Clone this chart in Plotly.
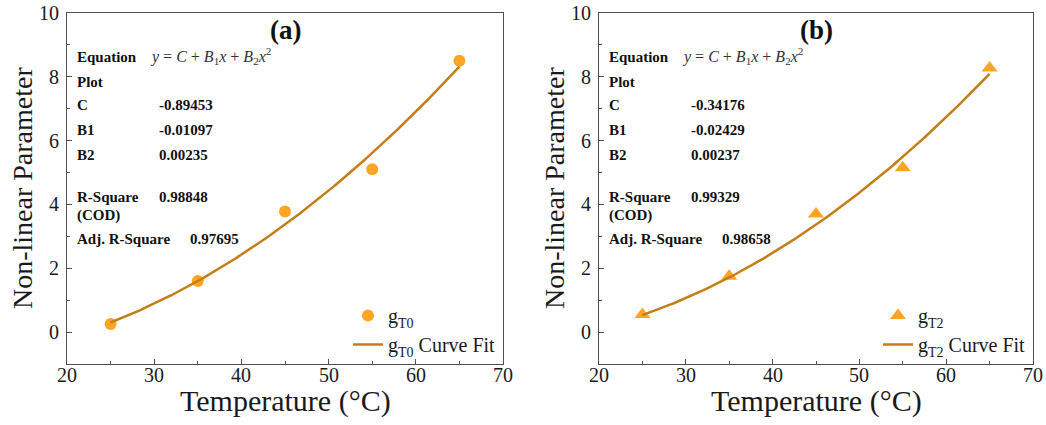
import numpy as np
import plotly.graph_objects as go

# Measured data
temperature = [25, 35, 45, 55, 65]
g_t0 = [0.25, 1.60, 3.78, 5.10, 8.50]
g_t2 = [0.55, 1.75, 3.70, 5.15, 8.28]

# Quadratic fit coefficients y = C + B1*x + B2*x^2
fit_t0 = {"C": -0.89453, "B1": -0.01097, "B2": 0.00235, "R2": 0.98848, "AdjR2": 0.97695}
fit_t2 = {"C": -0.34176, "B1": -0.02429, "B2": 0.00237, "R2": 0.99329, "AdjR2": 0.98658}

x_ticks = [20, 30, 40, 50, 60, 70]
y_ticks = [0, 2, 4, 6, 8, 10]

FONT = "Liberation Serif"
MARKER_COLOR = "#FFA524"
LINE_COLOR = "#C47E16"
FRAME = "#505050"
TEXT = "#1a1a1a"

xs = np.linspace(min(temperature), max(temperature), 200)


def curve(p):
    return p["C"] + p["B1"] * xs + p["B2"] * xs ** 2


fig = go.Figure()

fig.add_trace(go.Scatter(
    x=temperature, y=g_t0, mode="markers", name="g<sub>T0</sub>",
    marker=dict(symbol="circle", size=12, color=MARKER_COLOR),
    xaxis="x", yaxis="y", legend="legend"))
fig.add_trace(go.Scatter(
    x=xs, y=curve(fit_t0), mode="lines", name="g<sub>T0</sub> Curve Fit",
    line=dict(color=LINE_COLOR, width=2.5),
    xaxis="x", yaxis="y", legend="legend"))

fig.add_trace(go.Scatter(
    x=temperature, y=g_t2, mode="markers", name="g<sub>T2</sub>",
    marker=dict(symbol="triangle-up", size=14, color=MARKER_COLOR),
    xaxis="x2", yaxis="y2", legend="legend2"))
fig.add_trace(go.Scatter(
    x=xs, y=curve(fit_t2), mode="lines", name="g<sub>T2</sub> Curve Fit",
    line=dict(color=LINE_COLOR, width=2.5),
    xaxis="x2", yaxis="y2", legend="legend2"))

# Page geometry (pixels)
W, H = 1046, 425
ML, MR, MT, MB = 67, 13, 13, 61
PW, PH = W - ML - MR, H - MT - MB
left_a, right_a = 67, 503
left_b, right_b = 599, 1033


def px_to_paper(px):
    return (px - ML) / PW


def py_to_paper(py):
    return (H - MB - py) / PH


def xaxis_cfg(dom, anchor):
    return dict(
        domain=dom, anchor=anchor, range=[20, 70], tickvals=x_ticks,
        showticklabels=False,
        ticks="inside", ticklen=5, tickwidth=1, tickcolor=FRAME,
        minor=dict(ticks="inside", ticklen=3, dtick=5, tick0=20, tickcolor=FRAME),
        showline=True, linecolor=FRAME, linewidth=1, mirror=True,
        showgrid=False, zeroline=False, automargin=False,
    )


def yaxis_cfg(anchor):
    return dict(
        domain=[0, 1], anchor=anchor, range=[-1, 10], tickvals=y_ticks,
        ticks="inside", ticklen=5, tickwidth=1, tickcolor=FRAME,
        minor=dict(ticks="inside", ticklen=3, dtick=1, tick0=0, tickcolor=FRAME),
        showline=True, linecolor=FRAME, linewidth=1, mirror=True,
        showgrid=False, zeroline=False, automargin=False,
        ticklabelstandoff=3,
        tickfont=dict(family=FONT, size=20, color=TEXT),
    )


def legend_cfg(right_px):
    return dict(
        x=px_to_paper(right_px - 2), xanchor="right", xref="paper",
        y=0.0, yanchor="bottom", yref="paper",
        bgcolor="rgba(0,0,0,0)", borderwidth=0,
        font=dict(family=FONT, size=20, color=TEXT),
        itemwidth=30, tracegroupgap=0,
    )


fig.update_layout(
    width=W, height=H,
    margin=dict(l=ML, r=MR, t=MT, b=MB, autoexpand=False),
    plot_bgcolor="white", paper_bgcolor="white",
    xaxis=xaxis_cfg([px_to_paper(left_a), px_to_paper(right_a)], "y"),
    yaxis=yaxis_cfg("x"),
    xaxis2=xaxis_cfg([px_to_paper(left_b), px_to_paper(right_b)], "y2"),
    yaxis2=yaxis_cfg("x2"),
    legend=legend_cfg(right_a),
    legend2=legend_cfg(right_b),
    showlegend=True,
)

# Axis tick labels along x and axis titles
for xr, left_px, right_px in [("x", left_a, right_a), ("x2", left_b, right_b)]:
    for t in x_ticks:
        fig.add_annotation(text=str(t), xref=xr, yref="paper", x=t, y=py_to_paper(375),
                           xanchor="center", yanchor="middle", showarrow=False,
                           font=dict(family=FONT, size=20, color=TEXT))
    fig.add_annotation(text="Temperature (°C)", xref="paper", yref="paper",
                       x=px_to_paper((left_px + right_px) / 2), y=py_to_paper(401),
                       xanchor="center", yanchor="middle", showarrow=False,
                       font=dict(family=FONT, size=30, color=TEXT))
    fig.add_annotation(text="Non-linear Parameter", xref="paper", yref="paper",
                       x=px_to_paper(left_px - 45), y=py_to_paper(188), textangle=-90,
                       xanchor="center", yanchor="middle", showarrow=False,
                       font=dict(family=FONT, size=28, color=TEXT))

# Panel labels and fit-statistics tables
rows_y = {"Equation": 56.7, "Plot": 81.5, "C": 105, "B1": 130, "B2": 155,
          "R-Square": 196.5, "(COD)": 215, "Adj. R-Square": 239}
top, bottom = MT, H - MB
ph = bottom - top


def yfrac(px):
    return (bottom - px) / ph


panels = [("(a)", "x", "y", fit_t0, right_a - left_a),
          ("(b)", "x2", "y2", fit_t2, right_b - left_b)]

for label, xr, yr, fit, pw in panels:
    xd, yd = xr + " domain", yr + " domain"
    fig.add_annotation(text="<b>" + label + "</b>", xref=xd, yref=yd, x=0.5, y=yfrac(30),
                       xanchor="center", yanchor="middle", showarrow=False,
                       font=dict(family=FONT, size=27, color="#111"))
    lab_x = 8 / pw
    val_x = 90 / pw
    adj_x = 121 / pw
    eq_x = 81 / pw
    for name, py in rows_y.items():
        fig.add_annotation(text="<b>" + name + "</b>", xref=xd, yref=yd, x=lab_x, y=yfrac(py),
                           xanchor="left", yanchor="middle", showarrow=False,
                           font=dict(family=FONT, size=15, color="#111"))
    fig.add_annotation(
        text="<i>y</i> = <i>C</i> + <i>B</i><sub>1</sub><i>x</i> + <i>B</i><sub>2</sub><i>x</i><sup>2</sup>",
        xref=xd, yref=yd, x=eq_x, y=yfrac(rows_y["Equation"] - 1), xanchor="left", yanchor="middle",
        showarrow=False, font=dict(family=FONT, size=16, color="#333"))
    values = [("C", f"{fit['C']:.5f}", val_x), ("B1", f"{fit['B1']:.5f}", val_x),
              ("B2", f"{fit['B2']:.5f}", val_x), ("R-Square", f"{fit['R2']:.5f}", val_x),
              ("Adj. R-Square", f"{fit['AdjR2']:.5f}", adj_x)]
    for key, txt, vx in values:
        fig.add_annotation(text="<b>" + txt + "</b>", xref=xd, yref=yd, x=vx, y=yfrac(rows_y[key]),
                           xanchor="left", yanchor="middle", showarrow=False,
                           font=dict(family=FONT, size=15, color="#111"))

fig.write_html("out.html")
